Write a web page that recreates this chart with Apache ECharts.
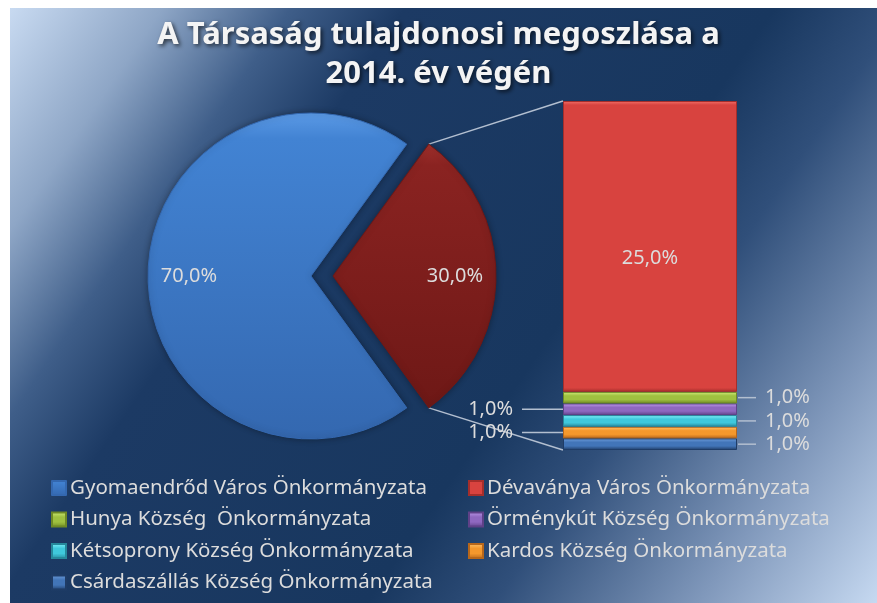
<!DOCTYPE html>
<html>
<head>
<meta charset="utf-8">
<script src="https://cdn.jsdelivr.net/npm/echarts@6/dist/echarts.min.js"></script>
<style>
  html, body { margin: 0; background: #fff; }
  #chart { width: 877px; height: 603px; }
</style>
</head>
<body>
<div id="chart"></div>
<script>
// data
const pieNames = ['Gyomaendrőd Város Önkormányzata', 'Egyéb'];
const pieValues = [70, 30];
// stacked from bottom to top
const barNames = [
  'Csárdaszállás Község Önkormányzata',
  'Kardos Község Önkormányzata',
  'Kétsoprony Község Önkormányzata',
  'Örménykút Község Önkormányzata',
  'Hunya Község  Önkormányzata',
  'Dévaványa Város Önkormányzata'
];
const barValues = [1, 1, 1, 1, 1, 25];
const barLabelSide = ['right', 'left', 'right', 'left', 'right', 'inside'];
const legendLeftCol = [
  'Gyomaendrőd Város Önkormányzata',
  'Hunya Község  Önkormányzata',
  'Kétsoprony Község Önkormányzata',
  'Csárdaszállás Község Önkormányzata'
];
const legendRightCol = [
  'Dévaványa Város Önkormányzata',
  'Örménykút Község Önkormányzata',
  'Kardos Község Önkormányzata'
];

// look
const colors = {
  'Gyomaendrőd Város Önkormányzata': ['#5b9ae6', '#4283d3', '#3468b0'],
  'Egyéb': ['#a1302c', '#8a2321', '#6e1816'],
  'Dévaványa Város Önkormányzata': ['#f3706a', '#d8433f', '#a52e2b'],
  'Hunya Község  Önkormányzata': ['#d2ee7c', '#9fc140', '#6f8a25'],
  'Örménykút Község Önkormányzata': ['#bd9aea', '#8f68c0', '#5f4188'],
  'Kétsoprony Község Önkormányzata': ['#86f4fc', '#3fc8dc', '#26899c'],
  'Kardos Község Önkormányzata': ['#ffc46e', '#f5982c', '#b8671a'],
  'Csárdaszállás Község Önkormányzata': ['#6f9edb', '#4275b8', '#1f3c66']
};
const PIE_CX = 311, PIE_CY = 276, PIE_R = 163, PIE_OFFSET = 22;
const GRID_L = 563, GRID_T = 101, GRID_W = 174, GRID_H = 349;
const BEVEL = 4;
const textColor = '#dcdcdc';
const lineColor = '#b3bfd0';
const font = 'Noto Sans';

const fmt = (v) => v.toFixed(1).replace('.', ',') + '%';
const barTotal = barValues.reduce((a, b) => a + b, 0);
// vertical bevel gradient with a fixed pixel edge
const bevel = (c, px) => {
  const e = Math.min(0.4, BEVEL / px);
  return new echarts.graphic.LinearGradient(0, 0, 0, 1, [
    { offset: 0, color: c[0] },
    { offset: e, color: c[1] },
    { offset: 1 - e, color: c[1] },
    { offset: 1, color: c[2] }
  ]);
};

const chart = echarts.init(document.getElementById('chart'));

const pieTotal = pieValues.reduce((a, b) => a + b, 0);
const otherShare = pieValues[1] / pieTotal;
// put the "other" slice centred on the right side
const startAngle = -(otherShare * 360) / 2;

const pieData = pieNames.map((n, i) => ({
  name: n,
  value: pieValues[i],
  selected: i === 1,
  itemStyle: {
    color: new echarts.graphic.LinearGradient(0, 0, 0, 1, [
      { offset: 0, color: colors[n][0] },
      { offset: 0.08, color: colors[n][1] },
      { offset: 1, color: colors[n][2] }
    ]),
    borderColor: colors[n][2],
    borderWidth: 1,
    shadowBlur: 6,
    shadowColor: 'rgba(0,0,0,0.35)'
  }
}));

const labelFont = { color: textColor, fontSize: 20, fontFamily: font };

const barSeries = barNames.map((n, i) => {
  const side = barLabelSide[i];
  let label;
  if (side === 'inside') {
    label = Object.assign({ show: true, position: 'inside', offset: [0, 12], formatter: (p) => fmt(p.value) }, labelFont);
  } else if (side === 'right') {
    label = {
      show: true, position: 'right', distance: 1,
      formatter: (p) => '{ln|}{t|' + fmt(p.value) + '}',
      rich: {
        ln: { width: 18, height: 1.5, backgroundColor: lineColor },
        t: Object.assign({ padding: [0, 0, 0, 9] }, labelFont)
      }
    };
  } else {
    label = {
      show: true, position: 'left', distance: 0,
      formatter: (p) => '{t|' + fmt(p.value) + '}{ln|}',
      rich: {
        ln: { width: 41, height: 1.5, backgroundColor: lineColor },
        t: Object.assign({ padding: [0, 9, 0, 0] }, labelFont)
      }
    };
  }
  return {
    name: n,
    type: 'bar',
    stack: 'other',
    barWidth: '100%',
    data: [barValues[i]],
    itemStyle: {
      color: bevel(colors[n], barValues[i] / barTotal * GRID_H),
      borderColor: colors[n][2],
      borderWidth: 1
    },
    label: label,
    silent: true
  };
});

const legendBase = {
  orient: 'vertical',
  icon: 'rect',
  padding: 0,
  itemWidth: 14,
  itemHeight: 14,
  itemGap: 9.5,
  height: 130,
  textStyle: { color: textColor, fontSize: 20.5, fontFamily: font, lineHeight: 22, padding: [0, 0, 0, -1] },
  selectedMode: false
};

chart.setOption({
  animation: false,
  title: {
    text: 'A Társaság tulajdonosi megoszlása a\n2014. év végén',
    left: 'center',
    top: 11,
    textStyle: {
      color: '#f4f4f4',
      fontSize: 31,
      fontWeight: 'bold',
      fontFamily: font,
      lineHeight: 39,
      textShadowColor: 'rgba(0,0,0,0.65)',
      textShadowBlur: 4,
      textShadowOffsetX: 2,
      textShadowOffsetY: 2
    }
  },
  legend: [
    Object.assign({}, legendBase, { left: 51, top: 477, data: legendLeftCol }),
    Object.assign({}, legendBase, { left: 468, top: 477, data: legendRightCol })
  ],
  grid: { left: GRID_L, top: GRID_T, width: GRID_W, height: GRID_H },
  xAxis: { type: 'category', data: ['x'], show: false },
  yAxis: { type: 'value', min: 0, max: barTotal, show: false },
  graphic: [
    {
      type: 'rect', z: -10, silent: true,
      shape: { x: 10, y: 8, width: 867, height: 595 },
      style: {
        fill: new echarts.graphic.LinearGradient(0, 0, 1, 1, [
          { offset: 0, color: '#c8daf1' },
          { offset: 0.12, color: '#8ea6c6' },
          { offset: 0.22, color: '#3f5e89' },
          { offset: 0.31, color: '#1c3a64' },
          { offset: 0.6, color: '#18375f' },
          { offset: 0.7, color: '#304f7a' },
          { offset: 0.86, color: '#8098bb' },
          { offset: 1, color: '#c6d9f1' }
        ])
      }
    }
  ],
  series: [
    {
      type: 'pie',
      center: [PIE_CX, PIE_CY],
      radius: [0, PIE_R],
      startAngle: startAngle,
      selectedMode: 'single',
      selectedOffset: PIE_OFFSET,
      label: { show: false },
      labelLine: { show: false },
      emphasis: { disabled: true },
      silent: true,
      data: pieData
    },
    {
      // label carrier: same slices, wider radius so labels sit at ~3/4 of the pie radius
      type: 'pie',
      center: [PIE_CX, PIE_CY],
      radius: [0, PIE_R * 1.46],
      startAngle: startAngle,
      selectedMode: 'single',
      selectedOffset: PIE_OFFSET,
      silent: true,
      emphasis: { disabled: true },
      itemStyle: { color: 'transparent' },
      label: Object.assign({ show: true, position: 'inside', formatter: (p) => fmt(p.value) }, labelFont),
      labelLine: { show: false },
      data: pieNames.map((n, i) => ({ name: n + ' ', value: pieValues[i], selected: i === 1 }))
    }
  ].concat(barSeries)
});

// connector lines from the exploded slice to the bar
const half = otherShare * Math.PI;
const tipX = PIE_CX + PIE_OFFSET + PIE_R * Math.cos(half);
const tipDy = PIE_R * Math.sin(half);
chart.setOption({
  graphic: [
    {},
    { type: 'line', silent: true, shape: { x1: tipX, y1: PIE_CY - tipDy, x2: GRID_L, y2: GRID_T }, style: { stroke: lineColor, lineWidth: 1.5 } },
    { type: 'line', silent: true, shape: { x1: tipX, y1: PIE_CY + tipDy, x2: GRID_L, y2: GRID_T + GRID_H }, style: { stroke: lineColor, lineWidth: 1.5 } }
  ]
});
</script>
</body>
</html>
